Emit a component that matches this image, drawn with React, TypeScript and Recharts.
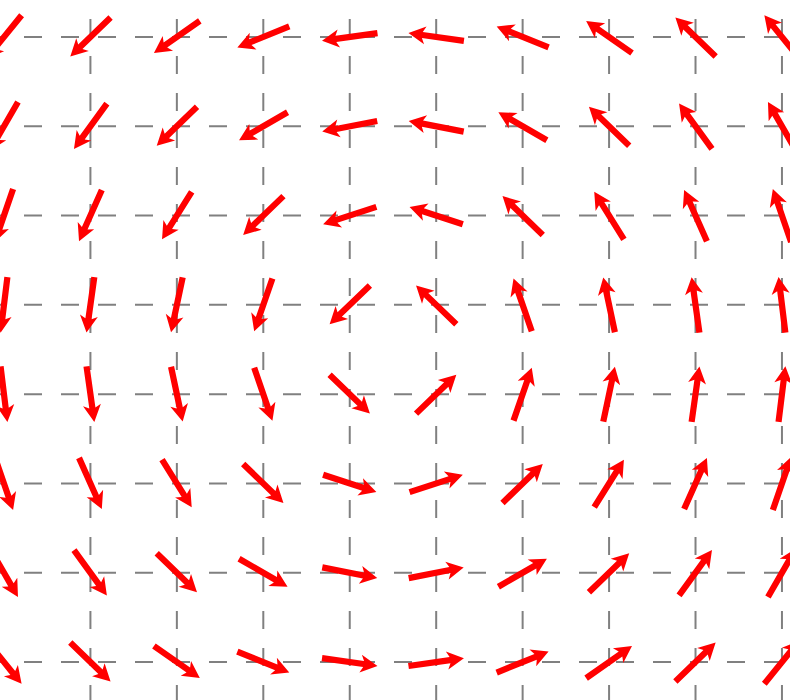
import React from "react";
import { ScatterChart, Scatter, XAxis, YAxis, CartesianGrid } from "recharts";

const X_TICKS = [0, 1, 2, 3, 4, 5, 6, 7, 8, 9];
const Y_TICKS = [0, 1, 2, 3, 4, 5, 6, 7];

// arrow direction in degrees (0 = right, 90 = up), rows from top to bottom
const ROW_ANGLES = [
  [231, 224, 215, 202, 188, 172, 158, 145, 136, 129],
  [240, 234, 224, 210, 191, 169, 150, 136, 126, 120],
  [251, 246, 238, 224, 198, 162, 136, 122, 114, 109],
  [263, 262, 258, 251, 224, 136, 109, 102, 98, 97],
  [-83, -82, -78, -71, -44, 44, 71, 78, 82, 83],
  [-71, -66, -58, -44, -18, 18, 44, 58, 66, 71],
  [-60, -54, -44, -30, -11, 11, 30, 44, 54, 60],
  [-51, -44, -35, -22, -8, 8, 22, 35, 44, 51],
];

const points = ROW_ANGLES.flatMap((row, j) =>
  row.map((angle, i) => ({
    x: X_TICKS[i],
    y: Y_TICKS[Y_TICKS.length - 1 - j],
    angle,
  }))
);

// quiver-style arrow, pivot in the middle
const Arrow = (props: any) => {
  const { cx, cy, payload } = props;
  if (cx == null || cy == null) return null;
  const half = 28;
  const w = 3.1;
  const headLen = 17;
  const headHalf = 9;
  const headAxis = 14;
  const pts = [
    [-half, -w],
    [half - headAxis, -w],
    [half - headLen, -headHalf],
    [half, 0],
    [half - headLen, headHalf],
    [half - headAxis, w],
    [-half, w],
  ];
  return (
    <polygon
      points={pts.map((p) => p.join(",")).join(" ")}
      transform={`translate(${cx},${cy}) rotate(${-payload.angle})`}
      fill="#ff0000"
    />
  );
};

export default function App() {
  return (
    <div style={{ position: "absolute", left: 0, top: 0, background: "#fff" }}>
      <ScatterChart width={790} height={700} margin={{ top: 0, right: 0, bottom: 0, left: 0 }}>
        <XAxis
          dataKey="x"
          type="number"
          domain={[-0.046, 9.093]}
          ticks={X_TICKS}
          allowDataOverflow
          hide
        />
        <YAxis
          dataKey="y"
          type="number"
          domain={[-0.425, 7.414]}
          ticks={Y_TICKS}
          allowDataOverflow
          hide
        />
        <Scatter
          data={points}
          shape={(p: any) => <Arrow {...p} />}
          isAnimationActive={false}
        />
        <CartesianGrid
          horizontal={false}
          syncWithTicks
          stroke="#808080"
          strokeWidth={2}
          strokeDasharray="18 19"
          strokeDashoffset={18}
        />
        <CartesianGrid
          vertical={false}
          syncWithTicks
          stroke="#808080"
          strokeWidth={2}
          strokeDasharray="18 19"
          strokeDashoffset={13}
        />
      </ScatterChart>
    </div>
  );
}
